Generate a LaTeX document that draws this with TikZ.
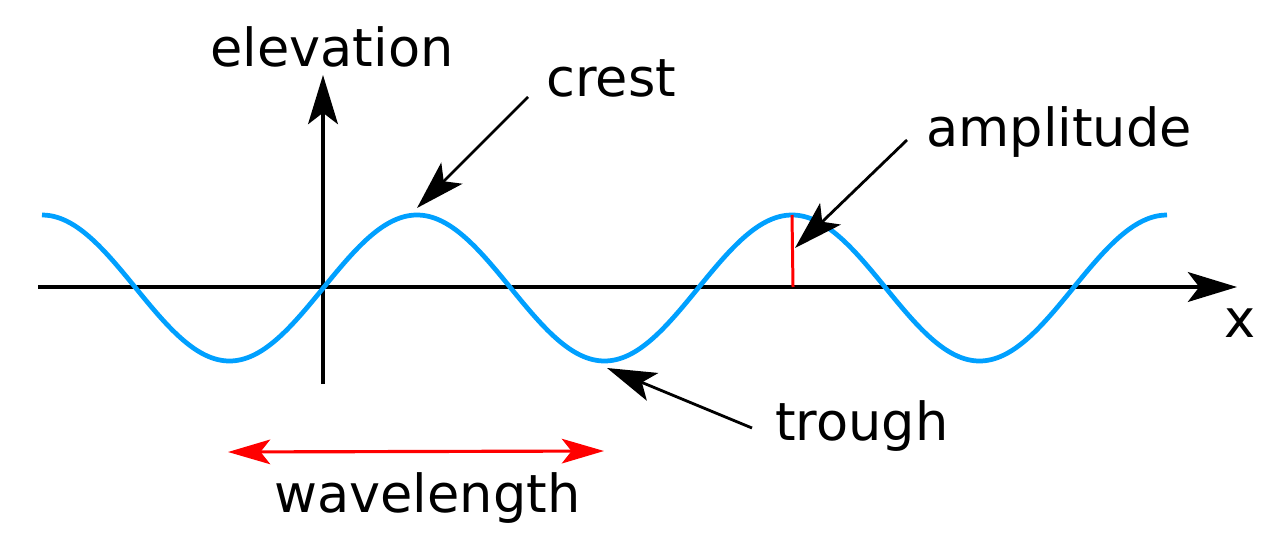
\documentclass[tikz,border=0pt]{standalone}
\usepackage{fontspec}
\setmainfont{DejaVu Sans}
\usetikzlibrary{arrows.meta}
\definecolor{wave}{RGB}{0,160,255}
\tikzset{
  lbl/.style={anchor=base west, inner sep=0pt, font=\fontsize{29.9}{36}\selectfont},
  axis/.style={black, line width=1.8pt, -{Stealth[length=28pt, width=17pt, inset=6.5pt]}},
  pointer/.style={black, line width=1.6pt, -{Stealth[length=28pt, width=17pt, inset=6.5pt]}},
  redarr/.style={red, line width=1.8pt, {Stealth[length=24pt, width=14pt, inset=5.5pt]}-{Stealth[length=24pt, width=14pt, inset=5.5pt]}},
}
\begin{document}
\begin{tikzpicture}[x=0.02cm, y=-0.02cm]
\useasboundingbox (0,0) rectangle (1280,554);
% axes
\coordinate (xa) at (38,287);
\coordinate (xb) at (1237,287);
\coordinate (ya) at (323,384);
\coordinate (yb) at (323,75);
\draw[axis] (xa) -- (xb);
\draw[axis] (ya) -- (yb);
% wave
\draw[wave, line width=2.7pt, domain=42:1167, samples=240, smooth]
  plot (\x, {288 - 73*cos(0.96*(\x-42))});
% amplitude line
\coordinate (amptop) at (792,215);
\coordinate (ampbot) at (793,287);
\draw[red, line width=1.7pt] (amptop) -- (ampbot);
% labels
\node[lbl] (elev) at (210,67) {elevation};
\node[lbl] (crest) at (546,96) {crest};
\node[lbl] (ampl) at (926,146) {amplitude};
\node[lbl] (xl) at (1224,337) {x};
\node[lbl] (trough) at (775,440) {trough};
\node[lbl] (wl) at (274,512) {wavelength};
% pointers
\coordinate (crestfrom) at (528,97);
\coordinate (crestto) at (417,208);
\draw[pointer] (crestfrom) -- (crestto);
\coordinate (ampfrom) at (907,140);
\coordinate (ampto) at (795,248);
\draw[pointer] (ampfrom) -- (ampto);
\coordinate (troughfrom) at (752,428);
\coordinate (troughto) at (607,368);
\draw[pointer] (troughfrom) -- (troughto);
% wavelength arrow
\coordinate (wla) at (228,452);
\coordinate (wlb) at (604,451);
\draw[redarr] (wla) -- (wlb);
\end{tikzpicture}
\end{document}
